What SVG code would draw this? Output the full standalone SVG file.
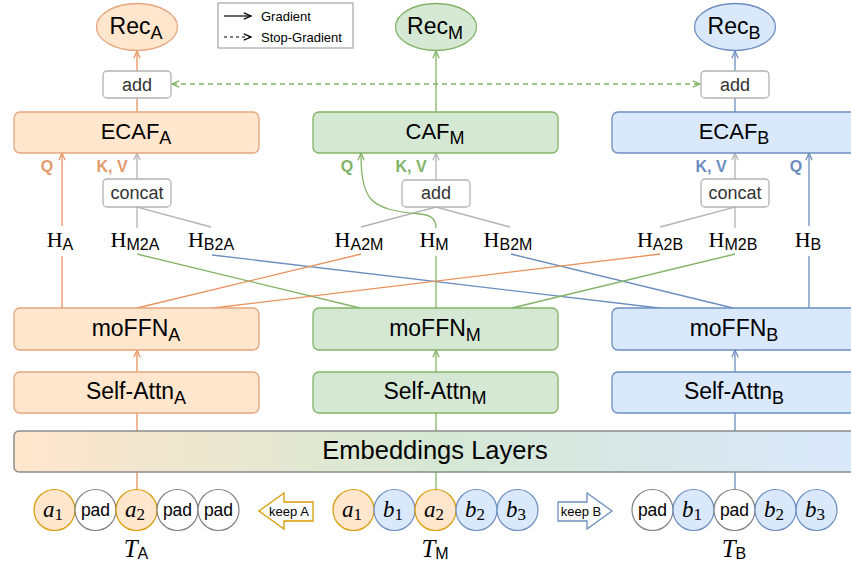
<svg xmlns="http://www.w3.org/2000/svg" width="851" height="567" viewBox="0 0 851 567">
<style>
.sans{font-family:"Liberation Sans",Arial,sans-serif}
.lbl{font-family:"Liberation Sans",Arial,sans-serif;fill:#000;text-anchor:middle}
.sm{font-family:"Liberation Sans",Arial,sans-serif;font-size:18px;fill:#333;text-anchor:middle}
.qk{font-family:"Liberation Sans",Arial,sans-serif;font-size:16px;font-weight:bold;text-anchor:middle}
.h{font-family:"Liberation Serif","Times New Roman",serif;font-size:22px;fill:#000;text-anchor:middle}
.tok{font-family:"Liberation Serif","Times New Roman",serif;font-style:italic;fill:#000;text-anchor:middle}
.pad{font-family:"Liberation Sans",Arial,sans-serif;font-size:17.5px;fill:#000;text-anchor:middle}
.oBox{fill:#ffe6cc;stroke:#e6a57e;stroke-width:1.3}
.gBox{fill:#d5e8d4;stroke:#82b366;stroke-width:1.3}
.bBox{fill:#dae8fc;stroke:#6c8ebf;stroke-width:1.3}
.wBox{fill:#fff;stroke:#b3b3b3;stroke-width:1.3}
.oTok{fill:#ffe6cc;stroke:#d79b00;stroke-width:1.2}
.bTok{fill:#dae8fc;stroke:#6c8ebf;stroke-width:1.2}
.pTok{fill:#fff;stroke:#808080;stroke-width:1.2}
.lo{stroke:#e8935e;stroke-width:1.3;fill:none}
.lg{stroke:#82b366;stroke-width:1.3;fill:none}
.lb{stroke:#6c8ebf;stroke-width:1.3;fill:none}
.lgr{stroke:#b3b3b3;stroke-width:1.3;fill:none}
</style>
<defs>
<marker id="mO" viewBox="0 0 10 10" refX="9" refY="5" markerWidth="9" markerHeight="9" markerUnits="userSpaceOnUse" orient="auto-start-reverse"><path d="M1,1.5 L9,5 L1,8.5" fill="none" stroke="#e8935e" stroke-width="1.4"/></marker>
<marker id="mG" viewBox="0 0 10 10" refX="9" refY="5" markerWidth="9" markerHeight="9" markerUnits="userSpaceOnUse" orient="auto-start-reverse"><path d="M1,1.5 L9,5 L1,8.5" fill="none" stroke="#82b366" stroke-width="1.4"/></marker>
<marker id="mB" viewBox="0 0 10 10" refX="9" refY="5" markerWidth="9" markerHeight="9" markerUnits="userSpaceOnUse" orient="auto-start-reverse"><path d="M1,1.5 L9,5 L1,8.5" fill="none" stroke="#6c8ebf" stroke-width="1.4"/></marker>
<marker id="mGr" viewBox="0 0 10 10" refX="9" refY="5" markerWidth="9" markerHeight="9" markerUnits="userSpaceOnUse" orient="auto-start-reverse"><path d="M1,1.5 L9,5 L1,8.5" fill="none" stroke="#b3b3b3" stroke-width="1.4"/></marker>
<marker id="mK" viewBox="0 0 10 10" refX="9" refY="5" markerWidth="9" markerHeight="9" markerUnits="userSpaceOnUse" orient="auto-start-reverse"><path d="M1,1.5 L9,5 L1,8.5" fill="none" stroke="#000" stroke-width="1.3"/></marker>
<linearGradient id="emb" x1="14" y1="0" x2="857" y2="0" gradientUnits="userSpaceOnUse">
<stop offset="0" stop-color="#ffe6cc"/>
<stop offset="0.5" stop-color="#d5e8d4"/>
<stop offset="1" stop-color="#dae8fc"/>
</linearGradient>
</defs>
<rect width="851" height="567" fill="#fff"/>

<g id="connectors">
<line class="lo" x1="137" y1="71" x2="137" y2="51" marker-end="url(#mO)"/>
<line class="lo" x1="137" y1="112" x2="137" y2="98"/>
<line class="lg" x1="436" y1="112" x2="436" y2="51" marker-end="url(#mG)"/>
<line class="lb" x1="735" y1="71" x2="735" y2="51" marker-end="url(#mB)"/>
<line class="lb" x1="735" y1="112" x2="735" y2="98"/>
<line class="lg" x1="172" y1="84" x2="700" y2="84" stroke-dasharray="5,4" marker-start="url(#mG)" marker-end="url(#mG)"/>

<line class="lo" x1="62" y1="226" x2="62" y2="153" marker-end="url(#mO)"/>
<line class="lo" x1="62" y1="308" x2="62" y2="256"/>
<line class="lgr" x1="137" y1="179" x2="137" y2="153" marker-end="url(#mGr)"/>
<polyline class="lgr" points="137,228 137,207 211,227"/>

<line class="lgr" x1="436" y1="180" x2="436" y2="153" marker-end="url(#mGr)"/>
<polyline class="lgr" points="361,227 436,207 510,227"/>
<path class="lg" d="M436,228 C436,218 430,215 420,214 C395,212 378,208 370,198 C363,188 361,175 361,153" marker-end="url(#mG)"/>
<line class="lg" x1="436" y1="308" x2="436" y2="256"/>

<line class="lgr" x1="735" y1="179" x2="735" y2="153" marker-end="url(#mGr)"/>
<polyline class="lgr" points="660,227 735,207 735,228"/>
<line class="lb" x1="809" y1="226" x2="809" y2="153" marker-end="url(#mB)"/>
<line class="lb" x1="809" y1="308" x2="809" y2="256"/>

<line class="lg" x1="137" y1="254" x2="360" y2="308"/>
<line class="lb" x1="212" y1="255" x2="659" y2="308"/>
<line class="lo" x1="361" y1="254" x2="137" y2="308"/>
<line class="lb" x1="511" y1="254" x2="733" y2="308"/>
<line class="lo" x1="660" y1="254" x2="213" y2="308"/>
<line class="lg" x1="735" y1="254" x2="512" y2="308"/>

<line class="lo" x1="137" y1="372" x2="137" y2="350" marker-end="url(#mO)"/>
<line class="lg" x1="436" y1="372" x2="436" y2="350" marker-end="url(#mG)"/>
<line class="lb" x1="735" y1="372" x2="735" y2="350" marker-end="url(#mB)"/>
<line class="lo" x1="137" y1="431" x2="137" y2="413"/>
<line class="lg" x1="436" y1="431" x2="436" y2="413"/>
<line class="lb" x1="735" y1="431" x2="735" y2="413"/>
<line class="lo" x1="137" y1="489" x2="137" y2="472"/>
<line class="lg" x1="436" y1="489" x2="436" y2="472"/>
<line class="lb" x1="735" y1="489" x2="735" y2="472"/>
</g>

<g id="legend">
<rect x="218" y="3" width="135" height="45" fill="#fff" stroke="#a6a6a6" stroke-width="1.2"/>
<line x1="224" y1="16" x2="251" y2="16" stroke="#000" stroke-width="1.2" marker-end="url(#mK)"/>
<line x1="224" y1="37" x2="251" y2="37" stroke="#000" stroke-width="1.2" stroke-dasharray="3,3" marker-end="url(#mK)"/>
<text class="sans" x="261" y="21" font-size="13" fill="#000">Gradient</text>
<text class="sans" x="261" y="42" font-size="13" fill="#000">Stop-Gradient</text>
</g>

<g id="recA"><ellipse cx="137" cy="27" rx="40.5" ry="23.5" class="oBox"/><text class="lbl" x="136" y="34" font-size="23">Rec<tspan font-size="18" dy="5">A</tspan></text></g>
<g id="recM"><ellipse cx="436" cy="27" rx="40.5" ry="23.5" class="gBox"/><text class="lbl" x="435" y="34" font-size="23">Rec<tspan font-size="18" dy="5">M</tspan></text></g>
<g id="recB"><ellipse cx="735" cy="27" rx="40.5" ry="23.5" class="bBox"/><text class="lbl" x="734" y="34" font-size="23">Rec<tspan font-size="18" dy="5">B</tspan></text></g>

<g id="addA"><rect x="103" y="71" width="68" height="27" rx="4" class="wBox"/><text class="sm" x="137" y="91">add</text></g>
<g id="addB"><rect x="701" y="71" width="68" height="27" rx="4" class="wBox"/><text class="sm" x="735" y="91">add</text></g>

<g id="ecafA"><rect x="14" y="112" width="245" height="41" rx="6" class="oBox"/><text class="lbl" x="136" y="139" font-size="22">ECAF<tspan font-size="18" dy="5">A</tspan></text></g>
<g id="cafM"><rect x="313" y="112" width="245" height="41" rx="6" class="gBox"/><text class="lbl" x="435" y="139" font-size="22">CAF<tspan font-size="18" dy="5">M</tspan></text></g>
<g id="ecafB"><rect x="612" y="112" width="245" height="41" rx="6" class="bBox"/><text class="lbl" x="734" y="139" font-size="22">ECAF<tspan font-size="18" dy="5">B</tspan></text></g>

<g id="qkv">
<text class="qk" x="47" y="172" fill="#e59a6c">Q</text>
<text class="qk" x="112" y="172" fill="#e59a6c">K, V</text>
<text class="qk" x="347" y="172" fill="#82b366">Q</text>
<text class="qk" x="411" y="172" fill="#82b366">K, V</text>
<text class="qk" x="711" y="172" fill="#6c8ebf">K, V</text>
<text class="qk" x="796" y="172" fill="#6c8ebf">Q</text>
</g>

<g id="concatA"><rect x="103" y="179" width="68" height="28" rx="4" class="wBox"/><text class="sm" x="137" y="199">concat</text></g>
<g id="addM"><rect x="402" y="180" width="68" height="27" rx="4" class="wBox"/><text class="sm" x="436" y="199">add</text></g>
<g id="concatB"><rect x="701" y="179" width="68" height="28" rx="4" class="wBox"/><text class="sm" x="735" y="199">concat</text></g>

<g id="hA"><text class="h" x="60" y="247">H<tspan class="sans" font-size="16" dy="3">A</tspan></text></g>
<g id="hM2A"><text class="h" x="135" y="247">H<tspan class="sans" font-size="16" dy="3">M2A</tspan></text></g>
<g id="hB2A"><text class="h" x="211" y="247">H<tspan class="sans" font-size="16" dy="3">B2A</tspan></text></g>
<g id="hA2M"><text class="h" x="359" y="247">H<tspan class="sans" font-size="16" dy="3">A2M</tspan></text></g>
<g id="hM"><text class="h" x="434" y="247">H<tspan class="sans" font-size="16" dy="3">M</tspan></text></g>
<g id="hB2M"><text class="h" x="508" y="247">H<tspan class="sans" font-size="16" dy="3">B2M</tspan></text></g>
<g id="hA2B"><text class="h" x="660" y="247">H<tspan class="sans" font-size="16" dy="3">A2B</tspan></text></g>
<g id="hM2B"><text class="h" x="733" y="247">H<tspan class="sans" font-size="16" dy="3">M2B</tspan></text></g>
<g id="hB"><text class="h" x="808" y="247">H<tspan class="sans" font-size="16" dy="3">B</tspan></text></g>

<g id="moffnA"><rect x="14" y="308" width="245" height="42" rx="6" class="oBox"/><text class="lbl" x="136" y="336" font-size="23">moFFN<tspan font-size="18" dy="5">A</tspan></text></g>
<g id="moffnM"><rect x="313" y="308" width="245" height="42" rx="6" class="gBox"/><text class="lbl" x="435" y="336" font-size="23">moFFN<tspan font-size="18" dy="5">M</tspan></text></g>
<g id="moffnB"><rect x="612" y="308" width="245" height="42" rx="6" class="bBox"/><text class="lbl" x="734" y="336" font-size="23">moFFN<tspan font-size="18" dy="5">B</tspan></text></g>

<g id="saA"><rect x="14" y="372" width="245" height="41" rx="6" class="oBox"/><text class="lbl" x="136" y="399" font-size="23">Self-Attn<tspan font-size="18" dy="5">A</tspan></text></g>
<g id="saM"><rect x="313" y="372" width="245" height="41" rx="6" class="gBox"/><text class="lbl" x="435" y="399" font-size="23">Self-Attn<tspan font-size="18" dy="5">M</tspan></text></g>
<g id="saB"><rect x="612" y="372" width="245" height="41" rx="6" class="bBox"/><text class="lbl" x="734" y="399" font-size="23">Self-Attn<tspan font-size="18" dy="5">B</tspan></text></g>

<g id="embeddings"><rect x="14" y="431" width="843" height="41" rx="5" fill="url(#emb)" stroke="#8c8c8c" stroke-width="1.5"/><text class="lbl" x="435" y="459" font-size="25.5">Embeddings Layers</text></g>

<g id="tokensA">
<circle cx="54.5" cy="510" r="20.5" class="oTok"/><text class="tok" x="53" y="517" font-size="23">a<tspan font-style="normal" font-size="17" dy="3">1</tspan></text>
<circle cx="95.5" cy="510" r="20.5" class="pTok"/><text class="pad" x="95.5" y="516">pad</text>
<circle cx="136.5" cy="510" r="20.5" class="oTok"/><text class="tok" x="135" y="517" font-size="23">a<tspan font-style="normal" font-size="17" dy="3">2</tspan></text>
<circle cx="177.5" cy="510" r="20.5" class="pTok"/><text class="pad" x="177.5" y="516">pad</text>
<circle cx="218.5" cy="510" r="20.5" class="pTok"/><text class="pad" x="218.5" y="516">pad</text>
<text class="tok" x="136" y="557" font-size="25">T<tspan class="sans" font-style="normal" font-size="16" dy="2">A</tspan></text>
</g>
<g id="keepA">
<polygon points="259,511 284,493 284,502 313,502 313,521 284,521 284,529" fill="#fff" stroke="#d79b00" stroke-width="1.3"/>
<text class="sans" x="289" y="516" font-size="13" text-anchor="middle" fill="#000">keep A</text>
</g>

<g id="tokensM">
<circle cx="353.5" cy="510" r="20.5" class="oTok"/><text class="tok" x="352" y="517" font-size="23">a<tspan font-style="normal" font-size="17" dy="3">1</tspan></text>
<circle cx="394.5" cy="510" r="20.5" class="bTok"/><text class="tok" x="393" y="517" font-size="23">b<tspan font-style="normal" font-size="17" dy="3">1</tspan></text>
<circle cx="435.5" cy="510" r="20.5" class="oTok"/><text class="tok" x="434" y="517" font-size="23">a<tspan font-style="normal" font-size="17" dy="3">2</tspan></text>
<circle cx="476.5" cy="510" r="20.5" class="bTok"/><text class="tok" x="475" y="517" font-size="23">b<tspan font-style="normal" font-size="17" dy="3">2</tspan></text>
<circle cx="517.5" cy="510" r="20.5" class="bTok"/><text class="tok" x="516" y="517" font-size="23">b<tspan font-style="normal" font-size="17" dy="3">3</tspan></text>
<text class="tok" x="435" y="557" font-size="25">T<tspan class="sans" font-style="normal" font-size="16" dy="2">M</tspan></text>
</g>
<g id="keepB">
<polygon points="612,511 587,493 587,502 558,502 558,521 587,521 587,529" fill="#fff" stroke="#6c8ebf" stroke-width="1.3"/>
<text class="sans" x="581" y="516" font-size="13" text-anchor="middle" fill="#000">keep B</text>
</g>

<g id="tokensB">
<circle cx="652.5" cy="510" r="20.5" class="pTok"/><text class="pad" x="652.5" y="516">pad</text>
<circle cx="693.5" cy="510" r="20.5" class="bTok"/><text class="tok" x="692" y="517" font-size="23">b<tspan font-style="normal" font-size="17" dy="3">1</tspan></text>
<circle cx="734.5" cy="510" r="20.5" class="pTok"/><text class="pad" x="734.5" y="516">pad</text>
<circle cx="775.5" cy="510" r="20.5" class="bTok"/><text class="tok" x="774" y="517" font-size="23">b<tspan font-style="normal" font-size="17" dy="3">2</tspan></text>
<circle cx="816.5" cy="510" r="20.5" class="bTok"/><text class="tok" x="815" y="517" font-size="23">b<tspan font-style="normal" font-size="17" dy="3">3</tspan></text>
<text class="tok" x="734" y="557" font-size="25">T<tspan class="sans" font-style="normal" font-size="16" dy="2">B</tspan></text>
</g>
</svg>
